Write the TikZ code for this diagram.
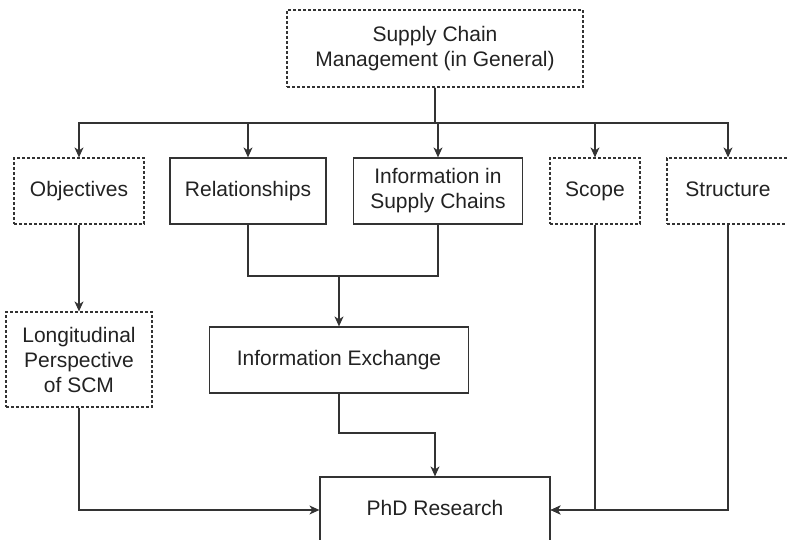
\documentclass[tikz,border=0pt]{standalone}
\usepackage{fontspec}
\setmainfont{Liberation Sans}
\usetikzlibrary{arrows.meta}
\definecolor{ink}{HTML}{222222}
\definecolor{edge}{HTML}{333333}
\begin{document}
\begin{tikzpicture}[x=1pt,y=-1pt,
  base/.style={rectangle, draw=edge, line width=1.2pt, text=ink, align=center,
    inner sep=0pt, font=\fontsize{21}{25}\selectfont},
  solidbox/.style={base},
  dotbox/.style={base, dash pattern=on 3pt off 2pt},
  oneline/.style={text height=15pt, text depth=4.5pt},
  link/.style={draw=edge, line width=1.2pt},
  arr/.style={link, -{Stealth[length=10pt,width=9pt,inset=3pt]}}
]
\useasboundingbox (0,0) rectangle (787,540);

% boxes
\node[dotbox, minimum width=296pt, minimum height=77pt] (top) at (435,48.5)
  {Supply Chain\\Management (in General)};
\node[dotbox, oneline, minimum width=130pt, minimum height=66pt] (obj) at (79,191) {Objectives};
\node[solidbox, oneline, minimum width=156pt, minimum height=66pt] (rel) at (248,191) {Relationships};
\node[solidbox, minimum width=169pt, minimum height=66pt] (info) at (438,191)
  {Information in\\Supply Chains};
\node[dotbox, oneline, minimum width=90pt, minimum height=66pt] (scope) at (595,191) {Scope};
\node[dotbox, oneline, minimum width=122pt, minimum height=66pt] (struct) at (728,191) {Structure};
\node[dotbox, minimum width=146pt, minimum height=95pt] (long) at (79,359.5)
  {Longitudinal\\Perspective\\of SCM};
\node[solidbox, oneline, minimum width=259pt, minimum height=66pt] (ie) at (339,360)
  {Information Exchange};
\node[solidbox, oneline, minimum width=230pt, minimum height=66pt] (phd) at (435,510)
  {PhD Research};

% distribution bus below the top box
\coordinate (bus) at (0,123);
\foreach \c in {obj,rel,info,scope,struct}
  \draw[arr] (top.south) -- (top.south |- bus) -| (\c.north);

% objectives to longitudinal perspective
\draw[arr] (obj.south) -- (long.north);

% relationships and information merge into information exchange
\coordinate (merge) at (339,276);
\draw[link] (rel.south) |- (merge);
\draw[link] (info.south) |- (merge);
\draw[arr] (merge) -- (ie.north);

% inputs into the research box
\coordinate (ieturn) at (339,433);
\draw[arr] (ie.south) -- (ieturn) -| (phd.north);
\draw[arr] (long.south) |- (phd.west);
\draw[arr] (scope.south) |- (phd.east);
\draw[arr] (struct.south) |- (phd.east);
\end{tikzpicture}
\end{document}
